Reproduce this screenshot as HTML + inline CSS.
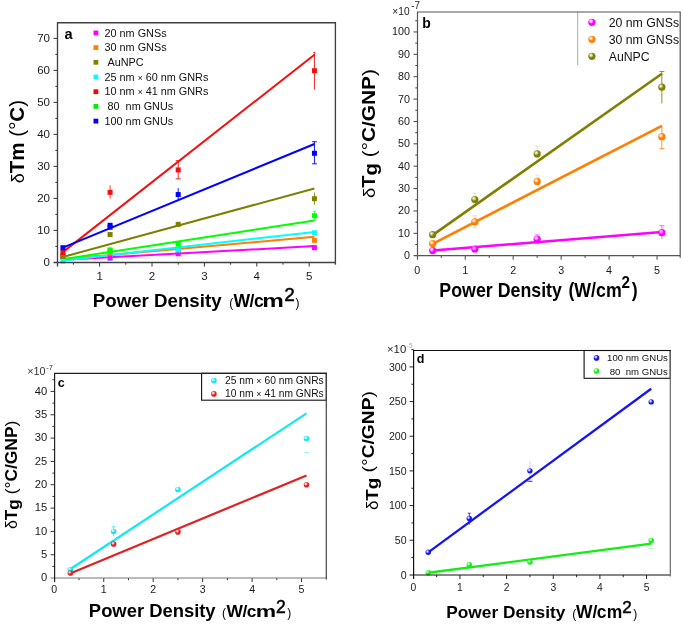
<!DOCTYPE html>
<html><head><meta charset="utf-8"><style>
html,body{margin:0;padding:0;background:#fff;}
svg{display:block;font-family:"Liberation Sans", sans-serif;will-change:transform;filter:blur(0.4px);}
</style></head><body>
<svg width="685" height="629" viewBox="0 0 685 629">
<rect width="685" height="629" fill="#fff"/>
<line x1="99.60" y1="262.50" x2="99.60" y2="266.50" stroke="#333" stroke-width="1" />
<text transform="translate(99.60,280.20)" font-size="11.5" text-anchor="middle" font-weight="normal" fill="#1a1a1a" >1</text>
<line x1="152.00" y1="262.50" x2="152.00" y2="266.50" stroke="#333" stroke-width="1" />
<text transform="translate(152.00,280.20)" font-size="11.5" text-anchor="middle" font-weight="normal" fill="#1a1a1a" >2</text>
<line x1="204.40" y1="262.50" x2="204.40" y2="266.50" stroke="#333" stroke-width="1" />
<text transform="translate(204.40,280.20)" font-size="11.5" text-anchor="middle" font-weight="normal" fill="#1a1a1a" >3</text>
<line x1="256.80" y1="262.50" x2="256.80" y2="266.50" stroke="#333" stroke-width="1" />
<text transform="translate(256.80,280.20)" font-size="11.5" text-anchor="middle" font-weight="normal" fill="#1a1a1a" >4</text>
<line x1="309.20" y1="262.50" x2="309.20" y2="266.50" stroke="#333" stroke-width="1" />
<text transform="translate(309.20,280.20)" font-size="11.5" text-anchor="middle" font-weight="normal" fill="#1a1a1a" >5</text>
<line x1="73.40" y1="262.50" x2="73.40" y2="264.70" stroke="#333" stroke-width="1" />
<line x1="125.80" y1="262.50" x2="125.80" y2="264.70" stroke="#333" stroke-width="1" />
<line x1="178.20" y1="262.50" x2="178.20" y2="264.70" stroke="#333" stroke-width="1" />
<line x1="230.60" y1="262.50" x2="230.60" y2="264.70" stroke="#333" stroke-width="1" />
<line x1="283.00" y1="262.50" x2="283.00" y2="264.70" stroke="#333" stroke-width="1" />
<text transform="translate(50.00,266.10)" font-size="11.5" text-anchor="end" font-weight="normal" fill="#1a1a1a" >0</text>
<line x1="53.50" y1="230.40" x2="57.50" y2="230.40" stroke="#333" stroke-width="1" />
<text transform="translate(50.00,234.10)" font-size="11.5" text-anchor="end" font-weight="normal" fill="#1a1a1a" >10</text>
<line x1="53.50" y1="198.40" x2="57.50" y2="198.40" stroke="#333" stroke-width="1" />
<text transform="translate(50.00,202.10)" font-size="11.5" text-anchor="end" font-weight="normal" fill="#1a1a1a" >20</text>
<line x1="53.50" y1="166.40" x2="57.50" y2="166.40" stroke="#333" stroke-width="1" />
<text transform="translate(50.00,170.10)" font-size="11.5" text-anchor="end" font-weight="normal" fill="#1a1a1a" >30</text>
<line x1="53.50" y1="134.40" x2="57.50" y2="134.40" stroke="#333" stroke-width="1" />
<text transform="translate(50.00,138.10)" font-size="11.5" text-anchor="end" font-weight="normal" fill="#1a1a1a" >40</text>
<line x1="53.50" y1="102.40" x2="57.50" y2="102.40" stroke="#333" stroke-width="1" />
<text transform="translate(50.00,106.10)" font-size="11.5" text-anchor="end" font-weight="normal" fill="#1a1a1a" >50</text>
<line x1="53.50" y1="70.40" x2="57.50" y2="70.40" stroke="#333" stroke-width="1" />
<text transform="translate(50.00,74.10)" font-size="11.5" text-anchor="end" font-weight="normal" fill="#1a1a1a" >60</text>
<line x1="53.50" y1="38.40" x2="57.50" y2="38.40" stroke="#333" stroke-width="1" />
<text transform="translate(50.00,42.10)" font-size="11.5" text-anchor="end" font-weight="normal" fill="#1a1a1a" >70</text>
<line x1="55.30" y1="246.40" x2="57.50" y2="246.40" stroke="#333" stroke-width="1" />
<line x1="55.30" y1="214.40" x2="57.50" y2="214.40" stroke="#333" stroke-width="1" />
<line x1="55.30" y1="182.40" x2="57.50" y2="182.40" stroke="#333" stroke-width="1" />
<line x1="55.30" y1="150.40" x2="57.50" y2="150.40" stroke="#333" stroke-width="1" />
<line x1="55.30" y1="118.40" x2="57.50" y2="118.40" stroke="#333" stroke-width="1" />
<line x1="55.30" y1="86.40" x2="57.50" y2="86.40" stroke="#333" stroke-width="1" />
<line x1="55.30" y1="54.40" x2="57.50" y2="54.40" stroke="#333" stroke-width="1" />
<text transform="translate(64.60,38.80)" font-size="14.5" text-anchor="start" font-weight="bold" fill="#000" >a</text>
<rect x="93.5" y="30.50" width="4.8" height="4.8" fill="#ff00ff"/>
<text transform="translate(104.50,36.60)" font-size="10.85" text-anchor="start" font-weight="normal" fill="#111" >20 nm GNSs</text>
<rect x="93.5" y="45.20" width="4.8" height="4.8" fill="#ff7f00"/>
<text transform="translate(104.50,51.30)" font-size="10.85" text-anchor="start" font-weight="normal" fill="#111" >30 nm GNSs</text>
<rect x="93.5" y="59.90" width="4.8" height="4.8" fill="#7f7f00"/>
<text transform="translate(104.50,66.00)" font-size="10.85" text-anchor="start" font-weight="normal" fill="#111" >&#160;AuNPC</text>
<rect x="93.5" y="74.60" width="4.8" height="4.8" fill="#00ffff"/>
<text transform="translate(104.50,80.70)" font-size="10.85" text-anchor="start" font-weight="normal" fill="#111" >25 nm <tspan font-size="8.5">&#215;</tspan> 60 nm GNRs</text>
<rect x="93.5" y="89.30" width="4.8" height="4.8" fill="#ff0000"/>
<text transform="translate(104.50,95.40)" font-size="10.85" text-anchor="start" font-weight="normal" fill="#111" >10 nm <tspan font-size="8.5">&#215;</tspan> 41 nm GNRs</text>
<rect x="93.5" y="104.00" width="4.8" height="4.8" fill="#00f000"/>
<text transform="translate(104.50,110.10)" font-size="10.85" text-anchor="start" font-weight="normal" fill="#111" >&#160;80 &#160;nm GNUs</text>
<rect x="93.5" y="118.70" width="4.8" height="4.8" fill="#0000ff"/>
<text transform="translate(104.50,124.80)" font-size="10.85" text-anchor="start" font-weight="normal" fill="#111" >100 nm GNUs</text>
<line x1="62.92" y1="259.84" x2="314.44" y2="246.08" stroke="#ff00ff" stroke-width="2.0" stroke-linecap="butt"/>
<line x1="62.92" y1="259.20" x2="314.44" y2="236.80" stroke="#ff7f00" stroke-width="2.0" stroke-linecap="butt"/>
<line x1="62.92" y1="256.96" x2="314.44" y2="188.48" stroke="#7f7f00" stroke-width="2.0" stroke-linecap="butt"/>
<line x1="62.92" y1="260.48" x2="314.44" y2="232.00" stroke="#00ffff" stroke-width="2.0" stroke-linecap="butt"/>
<line x1="62.92" y1="252.16" x2="314.44" y2="54.72" stroke="#f01010" stroke-width="2.0" stroke-linecap="butt"/>
<line x1="62.92" y1="259.20" x2="314.44" y2="220.48" stroke="#00ff00" stroke-width="2.0" stroke-linecap="butt"/>
<line x1="62.92" y1="247.68" x2="314.44" y2="144.00" stroke="#0000ff" stroke-width="2.0" stroke-linecap="butt"/>
<line x1="314.44" y1="220.80" x2="314.44" y2="211.20" stroke="#00ff00" stroke-width="1" opacity="0.7"/>
<line x1="312.94" y1="211.20" x2="315.94" y2="211.20" stroke="#00ff00" stroke-width="1" opacity="0.7"/>
<rect x="60.42" y="253.82" width="5" height="5" fill="#00ff00"/>
<rect x="175.70" y="241.66" width="5" height="5" fill="#00ff00"/>
<rect x="311.94" y="213.18" width="5" height="5" fill="#00ff00"/>
<rect x="60.42" y="253.82" width="5" height="5" fill="#ff00ff"/>
<rect x="175.70" y="251.26" width="5" height="5" fill="#ff00ff"/>
<rect x="311.94" y="245.18" width="5" height="5" fill="#ff00ff"/>
<rect x="60.42" y="254.94" width="5" height="5" fill="#ff7f00"/>
<rect x="107.58" y="249.66" width="5" height="5" fill="#ff7f00"/>
<rect x="175.70" y="247.10" width="5" height="5" fill="#ff7f00"/>
<rect x="311.94" y="237.82" width="5" height="5" fill="#ff7f00"/>
<rect x="60.42" y="258.62" width="5" height="5" fill="#00ffff"/>
<rect x="107.58" y="255.74" width="5" height="5" fill="#00ffff"/>
<rect x="175.70" y="247.42" width="5" height="5" fill="#00ffff"/>
<rect x="311.94" y="230.30" width="5" height="5" fill="#00ffff"/>
<rect x="107.58" y="255.42" width="5" height="5" fill="#ff00ff"/>
<line x1="314.44" y1="204.80" x2="314.44" y2="192.64" stroke="#7f7f00" stroke-width="1" opacity="0.9"/>
<rect x="107.58" y="248.38" width="5" height="5" fill="#00ff00"/>
<rect x="107.58" y="247.42" width="5" height="5" fill="#00ff00"/>
<rect x="60.42" y="253.82" width="5" height="5" fill="#7f7f00"/>
<rect x="107.58" y="232.06" width="5" height="5" fill="#7f7f00"/>
<rect x="175.70" y="221.82" width="5" height="5" fill="#7f7f00"/>
<rect x="311.94" y="196.22" width="5" height="5" fill="#7f7f00"/>
<line x1="110.08" y1="198.72" x2="110.08" y2="185.28" stroke="#f01010" stroke-width="1" opacity="0.8"/>
<line x1="178.20" y1="178.88" x2="178.20" y2="160.64" stroke="#f01010" stroke-width="1" opacity="0.9"/>
<line x1="175.70" y1="178.88" x2="180.70" y2="178.88" stroke="#f01010" stroke-width="1" opacity="0.9"/>
<line x1="175.70" y1="160.64" x2="180.70" y2="160.64" stroke="#f01010" stroke-width="1" opacity="0.9"/>
<line x1="314.44" y1="89.60" x2="314.44" y2="52.48" stroke="#f01010" stroke-width="1" opacity="0.9"/>
<line x1="313.44" y1="52.48" x2="315.44" y2="52.48" stroke="#f01010" stroke-width="1" opacity="0.9"/>
<rect x="60.42" y="249.98" width="5" height="5" fill="#f01010"/>
<rect x="107.58" y="189.82" width="5" height="5" fill="#f01010"/>
<rect x="175.70" y="167.42" width="5" height="5" fill="#f01010"/>
<rect x="311.94" y="68.22" width="5" height="5" fill="#f01010"/>
<line x1="178.20" y1="200.96" x2="178.20" y2="188.16" stroke="#0000ff" stroke-width="1" opacity="0.9"/>
<line x1="314.44" y1="163.84" x2="314.44" y2="141.76" stroke="#0000ff" stroke-width="1" opacity="0.9"/>
<line x1="311.94" y1="163.84" x2="316.94" y2="163.84" stroke="#0000ff" stroke-width="1" opacity="0.9"/>
<line x1="311.94" y1="141.76" x2="316.94" y2="141.76" stroke="#0000ff" stroke-width="1" opacity="0.9"/>
<rect x="60.42" y="245.18" width="5" height="5" fill="#0000ff"/>
<rect x="107.58" y="224.70" width="5" height="5" fill="#0000ff"/>
<rect x="107.58" y="222.78" width="5" height="5" fill="#0000ff"/>
<rect x="175.70" y="192.06" width="5" height="5" fill="#0000ff"/>
<rect x="311.94" y="150.78" width="5" height="5" fill="#0000ff"/>
<line x1="53.50" y1="262.50" x2="335.40" y2="262.50" stroke="#404040" stroke-width="1.35" />
<line x1="335.40" y1="22.70" x2="335.40" y2="264.70" stroke="#404040" stroke-width="1.35" />
<path d="M57.50,266.50 L57.50,22.70 L336.07,22.70" fill="none" stroke="#404040" stroke-width="1.35" stroke-linejoin="miter"/>
<text transform="translate(24.20,183.26) rotate(-90)" font-size="18" text-anchor="start" font-weight="normal" fill="#000" >&#948;</text>
<text transform="translate(24.20,173.24) rotate(-90) scale(1.0,0.973)" font-size="20.55" text-anchor="start" font-weight="bold" fill="#000" >Tm&#160;</text>
<text transform="translate(24.20,136.70) rotate(-90) scale(1.0,0.973)" font-size="20.55" text-anchor="start" font-weight="normal" fill="#000" >(&#176;</text>
<text transform="translate(24.20,121.64) rotate(-90) scale(1.0,0.973)" font-size="20.55" text-anchor="start" font-weight="bold" fill="#000" >C</text>
<text transform="translate(24.20,106.80) rotate(-90) scale(1.0,0.973)" font-size="20.55" text-anchor="start" font-weight="normal" fill="#000" >)</text>
<text transform="translate(92.75,307.00)" font-size="18.7" text-anchor="start" font-weight="bold" fill="#000" >Power Density</text>
<text transform="translate(229.20,307.00)" font-size="12" text-anchor="start" font-weight="normal" fill="#000" >(</text>
<text transform="translate(233.40,307.00)" font-size="17.6" text-anchor="start" font-weight="bold" fill="#000" >W</text>
<text transform="translate(249.40,307.00)" font-size="17.6" text-anchor="start" font-weight="bold" fill="#000" >/</text>
<text transform="translate(254.01,307.00)" font-size="17.6" text-anchor="start" font-weight="bold" fill="#000" >c</text>
<text transform="translate(262.30,307.00) scale(1.38,1.0)" font-size="17.6" text-anchor="start" font-weight="bold" fill="#000" >m</text>
<text transform="translate(284.35,301.30)" font-size="19" text-anchor="start" font-weight="normal" fill="#000" stroke="#000" stroke-width="0.5">2</text>
<text transform="translate(295.50,307.00)" font-size="12" text-anchor="start" font-weight="normal" fill="#000" >)</text>
<text transform="translate(417.30,273.60) scale(0.92,1.0)" font-size="11.7" text-anchor="middle" font-weight="normal" fill="#1a1a1a" >0</text>
<line x1="465.25" y1="255.70" x2="465.25" y2="259.70" stroke="#444" stroke-width="1" />
<text transform="translate(465.25,273.60) scale(0.92,1.0)" font-size="11.7" text-anchor="middle" font-weight="normal" fill="#1a1a1a" >1</text>
<line x1="513.20" y1="255.70" x2="513.20" y2="259.70" stroke="#444" stroke-width="1" />
<text transform="translate(513.20,273.60) scale(0.92,1.0)" font-size="11.7" text-anchor="middle" font-weight="normal" fill="#1a1a1a" >2</text>
<line x1="561.15" y1="255.70" x2="561.15" y2="259.70" stroke="#444" stroke-width="1" />
<text transform="translate(561.15,273.60) scale(0.92,1.0)" font-size="11.7" text-anchor="middle" font-weight="normal" fill="#1a1a1a" >3</text>
<line x1="609.10" y1="255.70" x2="609.10" y2="259.70" stroke="#444" stroke-width="1" />
<text transform="translate(609.10,273.60) scale(0.92,1.0)" font-size="11.7" text-anchor="middle" font-weight="normal" fill="#1a1a1a" >4</text>
<line x1="657.05" y1="255.70" x2="657.05" y2="259.70" stroke="#444" stroke-width="1" />
<text transform="translate(657.05,273.60) scale(0.92,1.0)" font-size="11.7" text-anchor="middle" font-weight="normal" fill="#1a1a1a" >5</text>
<line x1="441.28" y1="255.70" x2="441.28" y2="257.90" stroke="#444" stroke-width="1" />
<line x1="489.23" y1="255.70" x2="489.23" y2="257.90" stroke="#444" stroke-width="1" />
<line x1="537.17" y1="255.70" x2="537.17" y2="257.90" stroke="#444" stroke-width="1" />
<line x1="585.12" y1="255.70" x2="585.12" y2="257.90" stroke="#444" stroke-width="1" />
<line x1="633.08" y1="255.70" x2="633.08" y2="257.90" stroke="#444" stroke-width="1" />
<text transform="translate(410.00,259.20) scale(0.92,1.0)" font-size="11.7" text-anchor="end" font-weight="normal" fill="#1a1a1a" >0</text>
<line x1="413.50" y1="233.32" x2="417.50" y2="233.32" stroke="#444" stroke-width="1" />
<text transform="translate(410.00,236.82) scale(0.92,1.0)" font-size="11.7" text-anchor="end" font-weight="normal" fill="#1a1a1a" >10</text>
<line x1="413.50" y1="210.95" x2="417.50" y2="210.95" stroke="#444" stroke-width="1" />
<text transform="translate(410.00,214.45) scale(0.92,1.0)" font-size="11.7" text-anchor="end" font-weight="normal" fill="#1a1a1a" >20</text>
<line x1="413.50" y1="188.57" x2="417.50" y2="188.57" stroke="#444" stroke-width="1" />
<text transform="translate(410.00,192.07) scale(0.92,1.0)" font-size="11.7" text-anchor="end" font-weight="normal" fill="#1a1a1a" >30</text>
<line x1="413.50" y1="166.20" x2="417.50" y2="166.20" stroke="#444" stroke-width="1" />
<text transform="translate(410.00,169.70) scale(0.92,1.0)" font-size="11.7" text-anchor="end" font-weight="normal" fill="#1a1a1a" >40</text>
<line x1="413.50" y1="143.82" x2="417.50" y2="143.82" stroke="#444" stroke-width="1" />
<text transform="translate(410.00,147.32) scale(0.92,1.0)" font-size="11.7" text-anchor="end" font-weight="normal" fill="#1a1a1a" >50</text>
<line x1="413.50" y1="121.45" x2="417.50" y2="121.45" stroke="#444" stroke-width="1" />
<text transform="translate(410.00,124.95) scale(0.92,1.0)" font-size="11.7" text-anchor="end" font-weight="normal" fill="#1a1a1a" >60</text>
<line x1="413.50" y1="99.07" x2="417.50" y2="99.07" stroke="#444" stroke-width="1" />
<text transform="translate(410.00,102.57) scale(0.92,1.0)" font-size="11.7" text-anchor="end" font-weight="normal" fill="#1a1a1a" >70</text>
<line x1="413.50" y1="76.70" x2="417.50" y2="76.70" stroke="#444" stroke-width="1" />
<text transform="translate(410.00,80.20) scale(0.92,1.0)" font-size="11.7" text-anchor="end" font-weight="normal" fill="#1a1a1a" >80</text>
<line x1="413.50" y1="54.33" x2="417.50" y2="54.33" stroke="#444" stroke-width="1" />
<text transform="translate(410.00,57.83) scale(0.92,1.0)" font-size="11.7" text-anchor="end" font-weight="normal" fill="#1a1a1a" >90</text>
<line x1="413.50" y1="31.95" x2="417.50" y2="31.95" stroke="#444" stroke-width="1" />
<text transform="translate(410.00,35.45) scale(0.92,1.0)" font-size="11.7" text-anchor="end" font-weight="normal" fill="#1a1a1a" >100</text>
<line x1="415.30" y1="244.51" x2="417.50" y2="244.51" stroke="#444" stroke-width="1" />
<line x1="415.30" y1="222.14" x2="417.50" y2="222.14" stroke="#444" stroke-width="1" />
<line x1="415.30" y1="199.76" x2="417.50" y2="199.76" stroke="#444" stroke-width="1" />
<line x1="415.30" y1="177.39" x2="417.50" y2="177.39" stroke="#444" stroke-width="1" />
<line x1="415.30" y1="155.01" x2="417.50" y2="155.01" stroke="#444" stroke-width="1" />
<line x1="415.30" y1="132.64" x2="417.50" y2="132.64" stroke="#444" stroke-width="1" />
<line x1="415.30" y1="110.26" x2="417.50" y2="110.26" stroke="#444" stroke-width="1" />
<line x1="415.30" y1="87.89" x2="417.50" y2="87.89" stroke="#444" stroke-width="1" />
<line x1="415.30" y1="65.51" x2="417.50" y2="65.51" stroke="#444" stroke-width="1" />
<line x1="415.30" y1="43.14" x2="417.50" y2="43.14" stroke="#444" stroke-width="1" />
<line x1="415.30" y1="20.76" x2="417.50" y2="20.76" stroke="#444" stroke-width="1" />
<text transform="translate(392.30,15.00) scale(0.9,1.0)" font-size="11.3" text-anchor="start" font-weight="normal" fill="#222" >&#215;10</text>
<text transform="translate(411.30,9.40) scale(0.9,1.0)" font-size="11" text-anchor="start" font-weight="normal" fill="#222" >-7</text>
<text transform="translate(422.18,27.60) scale(0.9,1.0)" font-size="15.5" text-anchor="start" font-weight="bold" fill="#000" >b</text>
<line x1="577.70" y1="12.00" x2="577.70" y2="65.20" stroke="#aaa" stroke-width="1" />
<radialGradient id="g0" cx="0.38" cy="0.35" r="0.7"><stop offset="0" stop-color="#fff" stop-opacity="0.55"/><stop offset="0.5" stop-color="#ff00ff"/><stop offset="1" stop-color="#ff00ff"/></radialGradient>
<circle cx="591.90" cy="22.30" r="3.6" fill="url(#g0)"/>
<text transform="translate(608.68,26.70) scale(0.918,1.0)" font-size="13.4" text-anchor="start" font-weight="normal" fill="#111" >20 nm GNSs</text>
<radialGradient id="g1" cx="0.38" cy="0.35" r="0.7"><stop offset="0" stop-color="#fff" stop-opacity="0.55"/><stop offset="0.5" stop-color="#ff7f00"/><stop offset="1" stop-color="#ff7f00"/></radialGradient>
<circle cx="591.90" cy="39.30" r="3.6" fill="url(#g1)"/>
<text transform="translate(608.68,43.70) scale(0.918,1.0)" font-size="13.4" text-anchor="start" font-weight="normal" fill="#111" >30 nm GNSs</text>
<radialGradient id="g2" cx="0.38" cy="0.35" r="0.7"><stop offset="0" stop-color="#fff" stop-opacity="0.55"/><stop offset="0.5" stop-color="#7f7f00"/><stop offset="1" stop-color="#7f7f00"/></radialGradient>
<circle cx="591.90" cy="56.30" r="3.6" fill="url(#g2)"/>
<text transform="translate(608.68,60.70) scale(0.918,1.0)" font-size="13.4" text-anchor="start" font-weight="normal" fill="#111" >AuNPC</text>
<line x1="432.64" y1="250.55" x2="661.85" y2="231.98" stroke="#ff00ff" stroke-width="2.6" stroke-linecap="butt"/>
<line x1="432.64" y1="243.84" x2="661.85" y2="125.93" stroke="#ff7f00" stroke-width="2.6" stroke-linecap="butt"/>
<line x1="432.64" y1="235.11" x2="661.85" y2="73.79" stroke="#7f7f00" stroke-width="2.6" stroke-linecap="butt"/>
<line x1="537.17" y1="243.39" x2="537.17" y2="234.44" stroke="#ff00ff" stroke-width="1" opacity="0.35"/>
<line x1="534.67" y1="243.39" x2="539.67" y2="243.39" stroke="#ff00ff" stroke-width="1" opacity="0.35"/>
<line x1="534.67" y1="234.44" x2="539.67" y2="234.44" stroke="#ff00ff" stroke-width="1" opacity="0.35"/>
<line x1="661.85" y1="239.14" x2="661.85" y2="225.72" stroke="#ff00ff" stroke-width="1" opacity="0.6"/>
<line x1="659.35" y1="225.72" x2="664.35" y2="225.72" stroke="#ff00ff" stroke-width="1" opacity="0.6"/>
<circle cx="432.64" cy="250.55" r="3.6" fill="url(#g0)"/>
<circle cx="474.84" cy="248.99" r="3.6" fill="url(#g0)"/>
<circle cx="537.17" cy="239.14" r="3.6" fill="url(#g0)"/>
<circle cx="661.85" cy="232.65" r="3.6" fill="url(#g0)"/>
<line x1="474.84" y1="227.73" x2="474.84" y2="215.87" stroke="#ff7f00" stroke-width="1" opacity="0.3"/>
<line x1="472.34" y1="227.73" x2="477.34" y2="227.73" stroke="#ff7f00" stroke-width="1" opacity="0.3"/>
<line x1="472.34" y1="215.87" x2="477.34" y2="215.87" stroke="#ff7f00" stroke-width="1" opacity="0.3"/>
<line x1="537.17" y1="187.46" x2="537.17" y2="175.15" stroke="#ff7f00" stroke-width="1" opacity="0.2"/>
<line x1="534.67" y1="175.15" x2="539.67" y2="175.15" stroke="#ff7f00" stroke-width="1" opacity="0.2"/>
<line x1="661.85" y1="148.75" x2="661.85" y2="125.70" stroke="#ff7f00" stroke-width="1" opacity="0.8"/>
<line x1="659.35" y1="148.75" x2="664.35" y2="148.75" stroke="#ff7f00" stroke-width="1" opacity="0.8"/>
<circle cx="432.64" cy="243.62" r="3.6" fill="url(#g1)"/>
<circle cx="474.84" cy="221.91" r="3.6" fill="url(#g1)"/>
<circle cx="537.17" cy="181.41" r="3.6" fill="url(#g1)"/>
<circle cx="661.85" cy="136.66" r="3.6" fill="url(#g1)"/>
<line x1="474.84" y1="204.24" x2="474.84" y2="193.05" stroke="#7f7f00" stroke-width="1" opacity="0.2"/>
<line x1="472.34" y1="193.05" x2="477.34" y2="193.05" stroke="#7f7f00" stroke-width="1" opacity="0.2"/>
<line x1="537.17" y1="159.49" x2="537.17" y2="146.06" stroke="#7f7f00" stroke-width="1" opacity="0.2"/>
<line x1="534.67" y1="146.06" x2="539.67" y2="146.06" stroke="#7f7f00" stroke-width="1" opacity="0.2"/>
<line x1="661.85" y1="103.33" x2="661.85" y2="71.55" stroke="#7f7f00" stroke-width="1" opacity="0.85"/>
<line x1="659.35" y1="71.55" x2="664.35" y2="71.55" stroke="#7f7f00" stroke-width="1" opacity="0.85"/>
<circle cx="432.64" cy="234.67" r="3.6" fill="url(#g2)"/>
<circle cx="474.84" cy="199.54" r="3.6" fill="url(#g2)"/>
<circle cx="537.17" cy="153.89" r="3.6" fill="url(#g2)"/>
<circle cx="661.85" cy="87.22" r="3.6" fill="url(#g2)"/>
<line x1="413.50" y1="255.70" x2="680.20" y2="255.70" stroke="#555" stroke-width="1.2" />
<line x1="680.20" y1="12.00" x2="680.20" y2="257.70" stroke="#555" stroke-width="1.2" />
<path d="M417.50,259.70 L417.50,12.00 L680.80,12.00" fill="none" stroke="#555" stroke-width="1.2" stroke-linejoin="miter"/>
<text transform="translate(374.70,198.08) rotate(-90) scale(1.0,0.91)" font-size="18.5" text-anchor="start" font-weight="normal" fill="#000" >&#948;</text>
<text transform="translate(374.70,187.78) rotate(-90) scale(1.0,0.91)" font-size="20.2" text-anchor="start" font-weight="bold" fill="#000" >T</text>
<text transform="translate(377.20,175.44) rotate(-90) scale(1.0,0.91)" font-size="20.2" text-anchor="start" font-weight="bold" fill="#000" >g</text>
<text transform="translate(374.70,163.10) rotate(-90) scale(1.0,0.882)" font-size="20.85" text-anchor="start" font-weight="bold" fill="#000" >&#160;</text>
<text transform="translate(374.70,157.31) rotate(-90) scale(1.0,0.882)" font-size="20.85" text-anchor="start" font-weight="normal" fill="#000" >(&#176;</text>
<text transform="translate(374.70,142.03) rotate(-90) scale(1.0,0.882)" font-size="20.85" text-anchor="start" font-weight="bold" fill="#000" >C/GNP</text>
<text transform="translate(374.70,76.00) rotate(-90) scale(1.0,0.882)" font-size="20.85" text-anchor="start" font-weight="normal" fill="#000" >)</text>
<text transform="translate(439.31,296.70) scale(0.913,1.0)" font-size="19.5" text-anchor="start" font-weight="bold" fill="#000" >Power Density</text>
<text transform="translate(568.41,296.70) scale(0.913,1.0)" font-size="19.5" text-anchor="start" font-weight="bold" fill="#000" >(W/cm</text>
<text transform="translate(621.57,288.40) scale(0.95,1.0)" font-size="16" text-anchor="start" font-weight="bold" fill="#000" >2</text>
<text transform="translate(631.80,296.70) scale(0.913,1.0)" font-size="19.5" text-anchor="start" font-weight="bold" fill="#000" >)</text>
<text transform="translate(54.30,593.00)" font-size="10.6" text-anchor="middle" font-weight="normal" fill="#1a1a1a" >0</text>
<line x1="103.75" y1="578.00" x2="103.75" y2="582.00" stroke="#333" stroke-width="1" />
<text transform="translate(103.75,593.00)" font-size="10.6" text-anchor="middle" font-weight="normal" fill="#1a1a1a" >1</text>
<line x1="153.20" y1="578.00" x2="153.20" y2="582.00" stroke="#333" stroke-width="1" />
<text transform="translate(153.20,593.00)" font-size="10.6" text-anchor="middle" font-weight="normal" fill="#1a1a1a" >2</text>
<line x1="202.65" y1="578.00" x2="202.65" y2="582.00" stroke="#333" stroke-width="1" />
<text transform="translate(202.65,593.00)" font-size="10.6" text-anchor="middle" font-weight="normal" fill="#1a1a1a" >3</text>
<line x1="252.10" y1="578.00" x2="252.10" y2="582.00" stroke="#333" stroke-width="1" />
<text transform="translate(252.10,593.00)" font-size="10.6" text-anchor="middle" font-weight="normal" fill="#1a1a1a" >4</text>
<line x1="301.55" y1="578.00" x2="301.55" y2="582.00" stroke="#333" stroke-width="1" />
<text transform="translate(301.55,593.00)" font-size="10.6" text-anchor="middle" font-weight="normal" fill="#1a1a1a" >5</text>
<line x1="79.03" y1="578.00" x2="79.03" y2="580.20" stroke="#333" stroke-width="1" />
<line x1="128.48" y1="578.00" x2="128.48" y2="580.20" stroke="#333" stroke-width="1" />
<line x1="177.93" y1="578.00" x2="177.93" y2="580.20" stroke="#333" stroke-width="1" />
<line x1="227.38" y1="578.00" x2="227.38" y2="580.20" stroke="#333" stroke-width="1" />
<line x1="276.82" y1="578.00" x2="276.82" y2="580.20" stroke="#333" stroke-width="1" />
<text transform="translate(47.30,581.30)" font-size="11.2" text-anchor="end" font-weight="normal" fill="#1a1a1a" >0</text>
<line x1="50.60" y1="554.76" x2="54.60" y2="554.76" stroke="#333" stroke-width="1" />
<text transform="translate(47.30,557.97)" font-size="11.2" text-anchor="end" font-weight="normal" fill="#1a1a1a" >5</text>
<line x1="50.60" y1="531.43" x2="54.60" y2="531.43" stroke="#333" stroke-width="1" />
<text transform="translate(47.30,534.63)" font-size="11.2" text-anchor="end" font-weight="normal" fill="#1a1a1a" >10</text>
<line x1="50.60" y1="508.10" x2="54.60" y2="508.10" stroke="#333" stroke-width="1" />
<text transform="translate(47.30,511.30)" font-size="11.2" text-anchor="end" font-weight="normal" fill="#1a1a1a" >15</text>
<line x1="50.60" y1="484.76" x2="54.60" y2="484.76" stroke="#333" stroke-width="1" />
<text transform="translate(47.30,487.96)" font-size="11.2" text-anchor="end" font-weight="normal" fill="#1a1a1a" >20</text>
<line x1="50.60" y1="461.43" x2="54.60" y2="461.43" stroke="#333" stroke-width="1" />
<text transform="translate(47.30,464.62)" font-size="11.2" text-anchor="end" font-weight="normal" fill="#1a1a1a" >25</text>
<line x1="50.60" y1="438.09" x2="54.60" y2="438.09" stroke="#333" stroke-width="1" />
<text transform="translate(47.30,441.29)" font-size="11.2" text-anchor="end" font-weight="normal" fill="#1a1a1a" >30</text>
<line x1="50.60" y1="414.75" x2="54.60" y2="414.75" stroke="#333" stroke-width="1" />
<text transform="translate(47.30,417.95)" font-size="11.2" text-anchor="end" font-weight="normal" fill="#1a1a1a" >35</text>
<line x1="50.60" y1="391.42" x2="54.60" y2="391.42" stroke="#333" stroke-width="1" />
<text transform="translate(47.30,394.62)" font-size="11.2" text-anchor="end" font-weight="normal" fill="#1a1a1a" >40</text>
<line x1="52.40" y1="566.43" x2="54.60" y2="566.43" stroke="#333" stroke-width="1" />
<line x1="52.40" y1="543.10" x2="54.60" y2="543.10" stroke="#333" stroke-width="1" />
<line x1="52.40" y1="519.76" x2="54.60" y2="519.76" stroke="#333" stroke-width="1" />
<line x1="52.40" y1="496.43" x2="54.60" y2="496.43" stroke="#333" stroke-width="1" />
<line x1="52.40" y1="473.09" x2="54.60" y2="473.09" stroke="#333" stroke-width="1" />
<line x1="52.40" y1="449.76" x2="54.60" y2="449.76" stroke="#333" stroke-width="1" />
<line x1="52.40" y1="426.42" x2="54.60" y2="426.42" stroke="#333" stroke-width="1" />
<line x1="52.40" y1="403.09" x2="54.60" y2="403.09" stroke="#333" stroke-width="1" />
<line x1="52.40" y1="379.75" x2="54.60" y2="379.75" stroke="#333" stroke-width="1" />
<text transform="translate(27.15,374.50)" font-size="10.8" text-anchor="start" font-weight="normal" fill="#333" >&#215;10</text>
<text transform="translate(46.20,370.20)" font-size="7.5" text-anchor="start" font-weight="normal" fill="#333" >-7</text>
<text transform="translate(57.71,386.50)" font-size="12.5" text-anchor="start" font-weight="bold" fill="#000" >c</text>
<rect x="201.6" y="373.3" width="124.7" height="26.9" fill="none" stroke="#111" stroke-width="1.1"/>
<radialGradient id="g3" cx="0.38" cy="0.35" r="0.7"><stop offset="0" stop-color="#fff" stop-opacity="0.55"/><stop offset="0.5" stop-color="#11e8ee"/><stop offset="1" stop-color="#11e8ee"/></radialGradient>
<circle cx="213.90" cy="380.60" r="2.8" fill="url(#g3)"/>
<text transform="translate(224.99,384.10)" font-size="10.25" text-anchor="start" font-weight="normal" fill="#111" >25 nm <tspan font-size="9">&#215;</tspan> 60 nm GNRs</text>
<radialGradient id="g4" cx="0.38" cy="0.35" r="0.7"><stop offset="0" stop-color="#fff" stop-opacity="0.55"/><stop offset="0.5" stop-color="#dd2222"/><stop offset="1" stop-color="#dd2222"/></radialGradient>
<circle cx="213.90" cy="393.90" r="2.8" fill="url(#g4)"/>
<text transform="translate(224.99,397.40)" font-size="10.25" text-anchor="start" font-weight="normal" fill="#111" >10 nm <tspan font-size="9">&#215;</tspan> 41 nm GNRs</text>
<line x1="70.12" y1="569.23" x2="306.50" y2="413.35" stroke="#11e8ee" stroke-width="2.2" stroke-linecap="butt"/>
<line x1="70.12" y1="573.43" x2="306.50" y2="475.43" stroke="#dd2222" stroke-width="2.2" stroke-linecap="butt"/>
<line x1="113.64" y1="536.10" x2="113.64" y2="526.76" stroke="#11e8ee" stroke-width="1" opacity="0.7"/>
<line x1="111.64" y1="526.76" x2="115.64" y2="526.76" stroke="#11e8ee" stroke-width="1" opacity="0.7"/>
<line x1="304.50" y1="452.56" x2="308.50" y2="452.56" stroke="#11e8ee" stroke-width="1" opacity="0.5"/>
<circle cx="70.37" cy="569.70" r="2.8" fill="url(#g3)"/>
<circle cx="113.64" cy="531.43" r="2.8" fill="url(#g3)"/>
<circle cx="177.93" cy="489.43" r="2.8" fill="url(#g3)"/>
<circle cx="306.50" cy="438.56" r="2.8" fill="url(#g3)"/>
<circle cx="70.37" cy="572.97" r="2.8" fill="url(#g4)"/>
<circle cx="113.64" cy="544.03" r="2.8" fill="url(#g4)"/>
<circle cx="177.93" cy="531.90" r="2.8" fill="url(#g4)"/>
<circle cx="306.50" cy="484.76" r="2.8" fill="url(#g4)"/>
<line x1="50.60" y1="578.00" x2="326.30" y2="578.00" stroke="#777" stroke-width="1.2" />
<line x1="326.30" y1="373.30" x2="326.30" y2="579.50" stroke="#444" stroke-width="1.2" />
<path d="M54.60,582.00 L54.60,373.30 L326.90,373.30" fill="none" stroke="#222" stroke-width="1.2" stroke-linejoin="miter"/>
<text transform="translate(16.80,529.07) rotate(-90)" font-size="16" text-anchor="start" font-weight="normal" fill="#000" >&#948;</text>
<text transform="translate(16.80,520.17) rotate(-90)" font-size="17.2" text-anchor="start" font-weight="bold" fill="#000" >T</text>
<text transform="translate(18.80,509.66) rotate(-90)" font-size="17.2" text-anchor="start" font-weight="bold" fill="#000" >g</text>
<text transform="translate(16.80,499.15) rotate(-90) scale(1.0,0.99)" font-size="17.4" text-anchor="start" font-weight="bold" fill="#000" >&#160;</text>
<text transform="translate(16.80,494.32) rotate(-90) scale(1.0,0.99)" font-size="17.4" text-anchor="start" font-weight="normal" fill="#000" >(&#176;</text>
<text transform="translate(16.80,481.57) rotate(-90) scale(1.0,0.99)" font-size="17.4" text-anchor="start" font-weight="bold" fill="#000" >C/GNP</text>
<text transform="translate(16.80,426.46) rotate(-90) scale(1.0,0.99)" font-size="17.4" text-anchor="start" font-weight="normal" fill="#000" >)</text>
<text transform="translate(88.87,617.00)" font-size="18.4" text-anchor="start" font-weight="bold" fill="#000" >Power Density</text>
<text transform="translate(222.10,617.00)" font-size="12" text-anchor="start" font-weight="normal" fill="#000" >(</text>
<text transform="translate(226.60,617.00)" font-size="17.4" text-anchor="start" font-weight="bold" fill="#000" >W</text>
<text transform="translate(242.40,617.00)" font-size="17.4" text-anchor="start" font-weight="bold" fill="#000" >/</text>
<text transform="translate(246.72,617.00)" font-size="17.4" text-anchor="start" font-weight="bold" fill="#000" >c</text>
<text transform="translate(255.68,617.00) scale(1.32,1.0)" font-size="17.4" text-anchor="start" font-weight="bold" fill="#000" >m</text>
<text transform="translate(276.02,612.80)" font-size="17.5" text-anchor="start" font-weight="normal" fill="#000" stroke="#000" stroke-width="0.5">2</text>
<text transform="translate(287.30,617.00)" font-size="12" text-anchor="start" font-weight="normal" fill="#000" >)</text>
<text transform="translate(413.30,591.00)" font-size="10.3" text-anchor="middle" font-weight="normal" fill="#1a1a1a" >0</text>
<line x1="459.95" y1="575.00" x2="459.95" y2="579.00" stroke="#222" stroke-width="1" />
<text transform="translate(459.95,591.00)" font-size="10.3" text-anchor="middle" font-weight="normal" fill="#1a1a1a" >1</text>
<line x1="506.60" y1="575.00" x2="506.60" y2="579.00" stroke="#222" stroke-width="1" />
<text transform="translate(506.60,591.00)" font-size="10.3" text-anchor="middle" font-weight="normal" fill="#1a1a1a" >2</text>
<line x1="553.25" y1="575.00" x2="553.25" y2="579.00" stroke="#222" stroke-width="1" />
<text transform="translate(553.25,591.00)" font-size="10.3" text-anchor="middle" font-weight="normal" fill="#1a1a1a" >3</text>
<line x1="599.90" y1="575.00" x2="599.90" y2="579.00" stroke="#222" stroke-width="1" />
<text transform="translate(599.90,591.00)" font-size="10.3" text-anchor="middle" font-weight="normal" fill="#1a1a1a" >4</text>
<line x1="646.55" y1="575.00" x2="646.55" y2="579.00" stroke="#222" stroke-width="1" />
<text transform="translate(646.55,591.00)" font-size="10.3" text-anchor="middle" font-weight="normal" fill="#1a1a1a" >5</text>
<line x1="436.62" y1="575.00" x2="436.62" y2="577.20" stroke="#222" stroke-width="1" />
<line x1="483.27" y1="575.00" x2="483.27" y2="577.20" stroke="#222" stroke-width="1" />
<line x1="529.92" y1="575.00" x2="529.92" y2="577.20" stroke="#222" stroke-width="1" />
<line x1="576.58" y1="575.00" x2="576.58" y2="577.20" stroke="#222" stroke-width="1" />
<line x1="623.23" y1="575.00" x2="623.23" y2="577.20" stroke="#222" stroke-width="1" />
<text transform="translate(406.60,578.50)" font-size="10.6" text-anchor="end" font-weight="normal" fill="#1a1a1a" >0</text>
<line x1="409.60" y1="540.24" x2="413.60" y2="540.24" stroke="#222" stroke-width="1" />
<text transform="translate(406.60,543.84)" font-size="10.6" text-anchor="end" font-weight="normal" fill="#1a1a1a" >50</text>
<line x1="409.60" y1="505.57" x2="413.60" y2="505.57" stroke="#222" stroke-width="1" />
<text transform="translate(406.60,509.17)" font-size="10.6" text-anchor="end" font-weight="normal" fill="#1a1a1a" >100</text>
<line x1="409.60" y1="470.90" x2="413.60" y2="470.90" stroke="#222" stroke-width="1" />
<text transform="translate(406.60,474.50)" font-size="10.6" text-anchor="end" font-weight="normal" fill="#1a1a1a" >150</text>
<line x1="409.60" y1="436.24" x2="413.60" y2="436.24" stroke="#222" stroke-width="1" />
<text transform="translate(406.60,439.84)" font-size="10.6" text-anchor="end" font-weight="normal" fill="#1a1a1a" >200</text>
<line x1="409.60" y1="401.57" x2="413.60" y2="401.57" stroke="#222" stroke-width="1" />
<text transform="translate(406.60,405.17)" font-size="10.6" text-anchor="end" font-weight="normal" fill="#1a1a1a" >250</text>
<line x1="409.60" y1="366.91" x2="413.60" y2="366.91" stroke="#222" stroke-width="1" />
<text transform="translate(406.60,370.51)" font-size="10.6" text-anchor="end" font-weight="normal" fill="#1a1a1a" >300</text>
<line x1="411.40" y1="557.57" x2="413.60" y2="557.57" stroke="#222" stroke-width="1" />
<line x1="411.40" y1="522.90" x2="413.60" y2="522.90" stroke="#222" stroke-width="1" />
<line x1="411.40" y1="488.24" x2="413.60" y2="488.24" stroke="#222" stroke-width="1" />
<line x1="411.40" y1="453.57" x2="413.60" y2="453.57" stroke="#222" stroke-width="1" />
<line x1="411.40" y1="418.91" x2="413.60" y2="418.91" stroke="#222" stroke-width="1" />
<line x1="411.40" y1="384.24" x2="413.60" y2="384.24" stroke="#222" stroke-width="1" />
<line x1="411.40" y1="349.58" x2="413.60" y2="349.58" stroke="#222" stroke-width="1" />
<text transform="translate(387.02,353.00)" font-size="11.3" text-anchor="start" font-weight="normal" fill="#222" >&#215;10</text>
<text transform="translate(406.80,347.90)" font-size="6.5" text-anchor="start" font-weight="normal" fill="#aaa" >-5</text>
<text transform="translate(416.69,362.90)" font-size="12.5" text-anchor="start" font-weight="bold" fill="#000" >d</text>
<rect x="584.1" y="350.5" width="86.1" height="27.8" fill="none" stroke="#111" stroke-width="1.1"/>
<radialGradient id="g5" cx="0.38" cy="0.35" r="0.7"><stop offset="0" stop-color="#fff" stop-opacity="0.55"/><stop offset="0.5" stop-color="#1515ee"/><stop offset="1" stop-color="#1515ee"/></radialGradient>
<circle cx="596.50" cy="357.90" r="2.8" fill="url(#g5)"/>
<text transform="translate(607.07,361.40)" font-size="9.6" text-anchor="start" font-weight="normal" fill="#111" >100 nm GNUs</text>
<radialGradient id="g6" cx="0.38" cy="0.35" r="0.7"><stop offset="0" stop-color="#fff" stop-opacity="0.55"/><stop offset="0.5" stop-color="#11ee11"/><stop offset="1" stop-color="#11ee11"/></radialGradient>
<circle cx="596.50" cy="371.00" r="2.8" fill="url(#g6)"/>
<text transform="translate(607.07,374.50)" font-size="9.6" text-anchor="start" font-weight="normal" fill="#111" >&#160;80 &#160;nm GNUs</text>
<line x1="428.23" y1="552.37" x2="651.21" y2="388.75" stroke="#1515ee" stroke-width="2.3" stroke-linecap="butt"/>
<line x1="428.23" y1="572.75" x2="651.21" y2="543.63" stroke="#11ee11" stroke-width="2.3" stroke-linecap="butt"/>
<line x1="469.28" y1="524.71" x2="469.28" y2="513.20" stroke="#1515ee" stroke-width="1" opacity="0.8"/>
<line x1="467.78" y1="513.20" x2="470.78" y2="513.20" stroke="#1515ee" stroke-width="1" opacity="0.8"/>
<line x1="529.92" y1="481.30" x2="529.92" y2="461.34" stroke="#1515ee" stroke-width="1" opacity="0.2"/>
<line x1="527.42" y1="481.30" x2="532.42" y2="481.30" stroke="#1515ee" stroke-width="1" opacity="0.9"/>
<circle cx="428.23" cy="552.30" r="2.7" fill="url(#g5)"/>
<circle cx="469.28" cy="518.53" r="2.7" fill="url(#g5)"/>
<circle cx="529.92" cy="470.84" r="2.7" fill="url(#g5)"/>
<circle cx="651.21" cy="401.92" r="2.7" fill="url(#g5)"/>
<line x1="648.71" y1="548.69" x2="653.71" y2="548.69" stroke="#11ee11" stroke-width="1" opacity="0.4"/>
<circle cx="428.23" cy="572.68" r="2.7" fill="url(#g6)"/>
<circle cx="469.28" cy="564.78" r="2.7" fill="url(#g6)"/>
<circle cx="529.92" cy="562.07" r="2.7" fill="url(#g6)"/>
<circle cx="651.21" cy="540.44" r="2.7" fill="url(#g6)"/>
<line x1="409.60" y1="575.00" x2="670.30" y2="575.00" stroke="#111" stroke-width="1.2" />
<line x1="670.30" y1="350.50" x2="670.30" y2="576.50" stroke="#666" stroke-width="1.2" />
<path d="M413.60,579.00 L413.60,350.50 L670.90,350.50" fill="none" stroke="#111" stroke-width="1.2" stroke-linejoin="miter"/>
<text transform="translate(377.60,510.11) rotate(-90) scale(1.0,0.92)" font-size="17" text-anchor="start" font-weight="normal" fill="#000" >&#948;</text>
<text transform="translate(377.60,500.65) rotate(-90) scale(1.0,0.92)" font-size="18.75" text-anchor="start" font-weight="bold" fill="#000" >Tg</text>
<text transform="translate(374.30,477.74) rotate(-90) scale(1.0,0.898)" font-size="19.2" text-anchor="start" font-weight="bold" fill="#000" >&#160;</text>
<text transform="translate(374.30,472.41) rotate(-90) scale(1.0,0.898)" font-size="19.2" text-anchor="start" font-weight="normal" fill="#000" >(&#176;</text>
<text transform="translate(374.30,458.34) rotate(-90) scale(1.0,0.898)" font-size="19.2" text-anchor="start" font-weight="bold" fill="#000" >C/GNP</text>
<text transform="translate(374.30,397.53) rotate(-90) scale(1.0,0.898)" font-size="19.2" text-anchor="start" font-weight="normal" fill="#000" >)</text>
<text transform="translate(446.24,617.90)" font-size="17.3" text-anchor="start" font-weight="bold" fill="#000" >Power Density</text>
<text transform="translate(572.20,617.90)" font-size="12" text-anchor="start" font-weight="normal" fill="#000" >(</text>
<text transform="translate(575.90,617.90)" font-size="17.5" text-anchor="start" font-weight="bold" fill="#000" >W</text>
<text transform="translate(592.50,617.90)" font-size="17.5" text-anchor="start" font-weight="bold" fill="#000" >/</text>
<text transform="translate(596.72,617.90)" font-size="17.5" text-anchor="start" font-weight="bold" fill="#000" >c</text>
<text transform="translate(606.85,617.90)" font-size="17.5" text-anchor="start" font-weight="bold" fill="#000" >m</text>
<text transform="translate(622.35,612.60)" font-size="17" text-anchor="start" font-weight="normal" fill="#000" stroke="#000" stroke-width="0.5">2</text>
<text transform="translate(633.20,617.90)" font-size="12" text-anchor="start" font-weight="normal" fill="#000" >)</text>
</svg>
</body></html>
